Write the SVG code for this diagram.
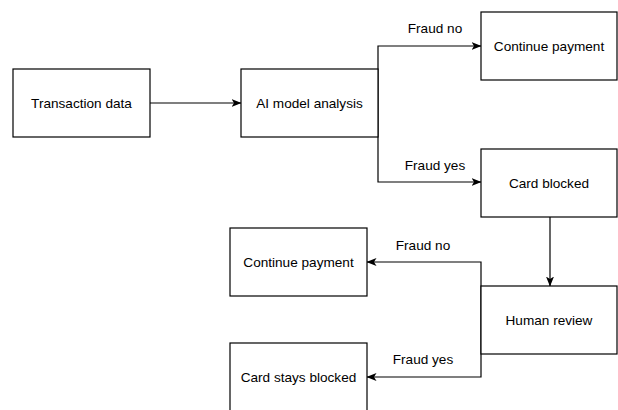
<svg xmlns="http://www.w3.org/2000/svg" width="618" height="410" viewBox="0 0 618 410">
<style>
.box{fill:#fff;stroke:#000;stroke-width:1.2}
.edge{fill:none;stroke:#000;stroke-width:1.2}
text{font-family:"Liberation Sans",Arial,sans-serif;font-size:13.6px;fill:#000;text-anchor:middle;dominant-baseline:central}
</style>
<defs>
<marker id="arr" viewBox="0 0 10 10" refX="9.5" refY="5" markerWidth="10" markerHeight="10" markerUnits="userSpaceOnUse" orient="auto">
<path d="M0,1 L10,5 L0,9 L2.5,5 Z" fill="#000"/>
</marker>
</defs>
<rect width="618" height="410" fill="#fff"/>
<g id="connectors">
<path class="edge" d="M150,103 H241" marker-end="url(#arr)"/>
<path class="edge" d="M378,103 V46 H481" marker-end="url(#arr)"/>
<path class="edge" d="M378,103 V182 H481" marker-end="url(#arr)"/>
<path class="edge" d="M550,217 V286" marker-end="url(#arr)"/>
<path class="edge" d="M481,320 V262 H367" marker-end="url(#arr)"/>
<path class="edge" d="M481,320 V377 H367" marker-end="url(#arr)"/>
<text x="435" y="28">Fraud no</text>
<text x="435" y="165">Fraud yes</text>
<text x="423" y="245">Fraud no</text>
<text x="423" y="359">Fraud yes</text>
</g>
<g id="transaction"><rect class="box" x="13" y="69" width="137" height="68"/><text x="81.5" y="103">Transaction data</text></g>
<g id="ai"><rect class="box" x="241" y="69" width="137" height="68"/><text x="309.5" y="103">AI model analysis</text></g>
<g id="continue1"><rect class="box" x="481" y="12" width="136" height="68"/><text x="549" y="46">Continue payment</text></g>
<g id="blocked"><rect class="box" x="481" y="149" width="136" height="68"/><text x="549" y="183">Card blocked</text></g>
<g id="human"><rect class="box" x="481" y="286" width="136" height="68"/><text x="549" y="320">Human review</text></g>
<g id="continue2"><rect class="box" x="230" y="228" width="137" height="68"/><text x="298.5" y="262">Continue payment</text></g>
<g id="stays"><rect class="box" x="230" y="343" width="137" height="68"/><text x="298.5" y="377">Card stays blocked</text></g>
</svg>
